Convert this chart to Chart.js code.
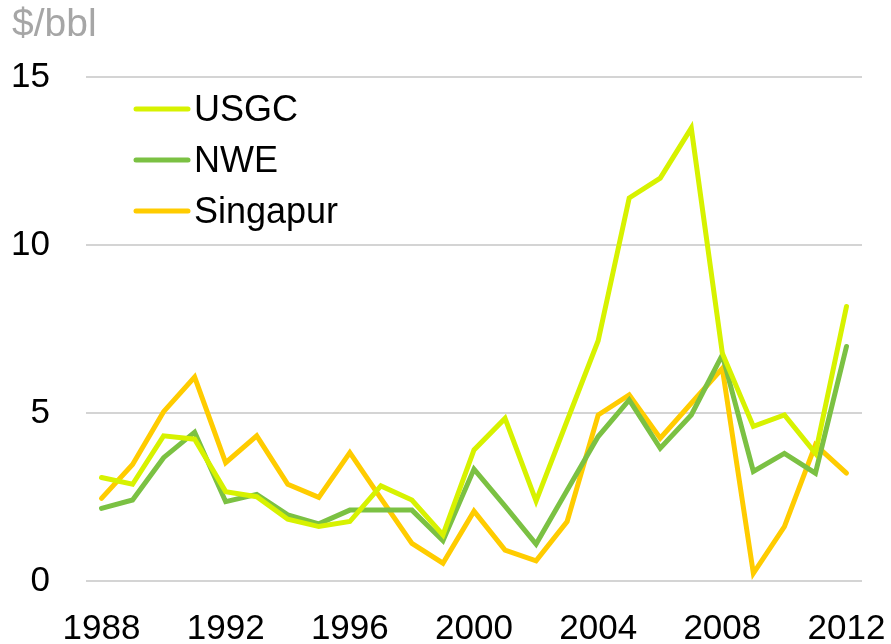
<!DOCTYPE html>
<html>
<head>
<meta charset="utf-8">
<script src="https://cdn.jsdelivr.net/npm/chart.js@4/dist/chart.umd.min.js"></script>
<style>
    html, body { margin: 0; padding: 0; background: #fff; }
    #wrap { width: 891px; height: 644px; }
</style>
</head>
<body>
<div id="wrap"><canvas id="js--chart"></canvas></div>
<script>
// data
const years = [1988, 1989, 1990, 1991, 1992, 1993, 1994, 1995, 1996, 1997, 1998, 1999,
    2000, 2001, 2002, 2003, 2004, 2005, 2006, 2007, 2008, 2009, 2010, 2011, 2012];
const usgc = [3.08, 2.88, 4.32, 4.22, 2.66, 2.51, 1.84, 1.62, 1.77, 2.83, 2.41, 1.37,
    3.90, 4.84, 2.38, 4.77, 7.15, 11.40, 11.99, 13.48, 6.78, 4.60, 4.94, 3.80, 8.17];
const nwe = [2.16, 2.41, 3.67, 4.43, 2.36, 2.58, 1.97, 1.70, 2.11, 2.11, 2.11, 1.20,
    3.33, 2.23, 1.10, 2.70, 4.30, 5.39, 3.95, 4.94, 6.73, 3.26, 3.80, 3.21, 6.98];
const singapur = [2.46, 3.47, 5.04, 6.07, 3.52, 4.32, 2.88, 2.49, 3.82, 2.46, 1.12, 0.53,
    2.08, 0.92, 0.60, 1.77, 4.94, 5.54, 4.25, 5.29, 6.33, 0.23, 1.62, 4.05, 3.21];
const yTicks = [0, 5, 10, 15];
const unit = "$/bbl";

const fontFamily = "'Liberation Sans', Arial, sans-serif";

// legend inside the plot + unit label top left
const extras = {
    id: 'extras',
    afterDraw(chart) {
        const ctx = chart.ctx;
        ctx.save();
        ctx.fillStyle = '#a6a6a6';
        ctx.font = '39px ' + fontFamily;
        ctx.textBaseline = 'alphabetic';
        ctx.textAlign = 'left';
        ctx.fillText(unit, 12, 36);

        ctx.font = '36px ' + fontFamily;
        ctx.lineCap = 'round';
        chart.data.datasets.forEach(function(ds, i) {
            const y = 109 + i * 51;
            ctx.strokeStyle = ds.borderColor;
            ctx.lineWidth = 5;
            ctx.beginPath();
            ctx.moveTo(136, y);
            ctx.lineTo(188, y);
            ctx.stroke();
            ctx.fillStyle = '#000';
            ctx.fillText(ds.label, 194, y + 12);
        });
        ctx.restore();
    }
};

const data = {
    labels: years,
    datasets: [
        { label: "USGC", data: usgc, borderColor: '#d7f200', borderWidth: 5 },
        { label: "NWE", data: nwe, borderColor: '#7bc143', borderWidth: 5 },
        { label: "Singapur", data: singapur, borderColor: '#ffcc00', borderWidth: 5 }
    ]
};

const config = {
    type: 'line',
    data: data,
    options: {
        responsive: true,
        maintainAspectRatio: false,
        animation: false,
        layout: { padding: { top: 77, right: 29, bottom: 0, left: 0 } },
        elements: {
            line: { borderWidth: 5, tension: 0, borderJoinStyle: 'miter', borderCapStyle: 'round' },
            point: { radius: 0 }
        },
        plugins: {
            legend: { display: false },
            tooltip: { enabled: false }
        },
        scales: {
            x: {
                offset: true,
                grid: { display: false },
                border: { display: false },
                ticks: {
                    autoSkip: false,
                    maxRotation: 0,
                    padding: 19,
                    color: '#000',
                    font: { family: fontFamily, size: 35 },
                    callback: function(val, index) {
                        return index % 4 === 0 ? years[index] : '';
                    }
                },
                afterFit: function(scale) {
                    scale.height = 63;
                    scale.paddingLeft = 0;
                    scale.paddingRight = 0;
                }
            },
            y: {
                min: 0,
                max: 15,
                afterBuildTicks: function(scale) {
                    scale.ticks = yTicks.map(function(v) { return { value: v }; });
                },
                grid: { color: '#d4d4d4', lineWidth: 2, drawTicks: false },
                border: { display: false },
                ticks: {
                    padding: 36,
                    color: '#000',
                    font: { family: fontFamily, size: 35 }
                },
                afterFit: function(scale) {
                    scale.width = 86;
                    scale.paddingTop = 0;
                    scale.paddingBottom = 0;
                }
            }
        }
    },
    plugins: [extras]
};

const myChart = new Chart(document.getElementById("js--chart"), config);
</script>
</body>
</html>
